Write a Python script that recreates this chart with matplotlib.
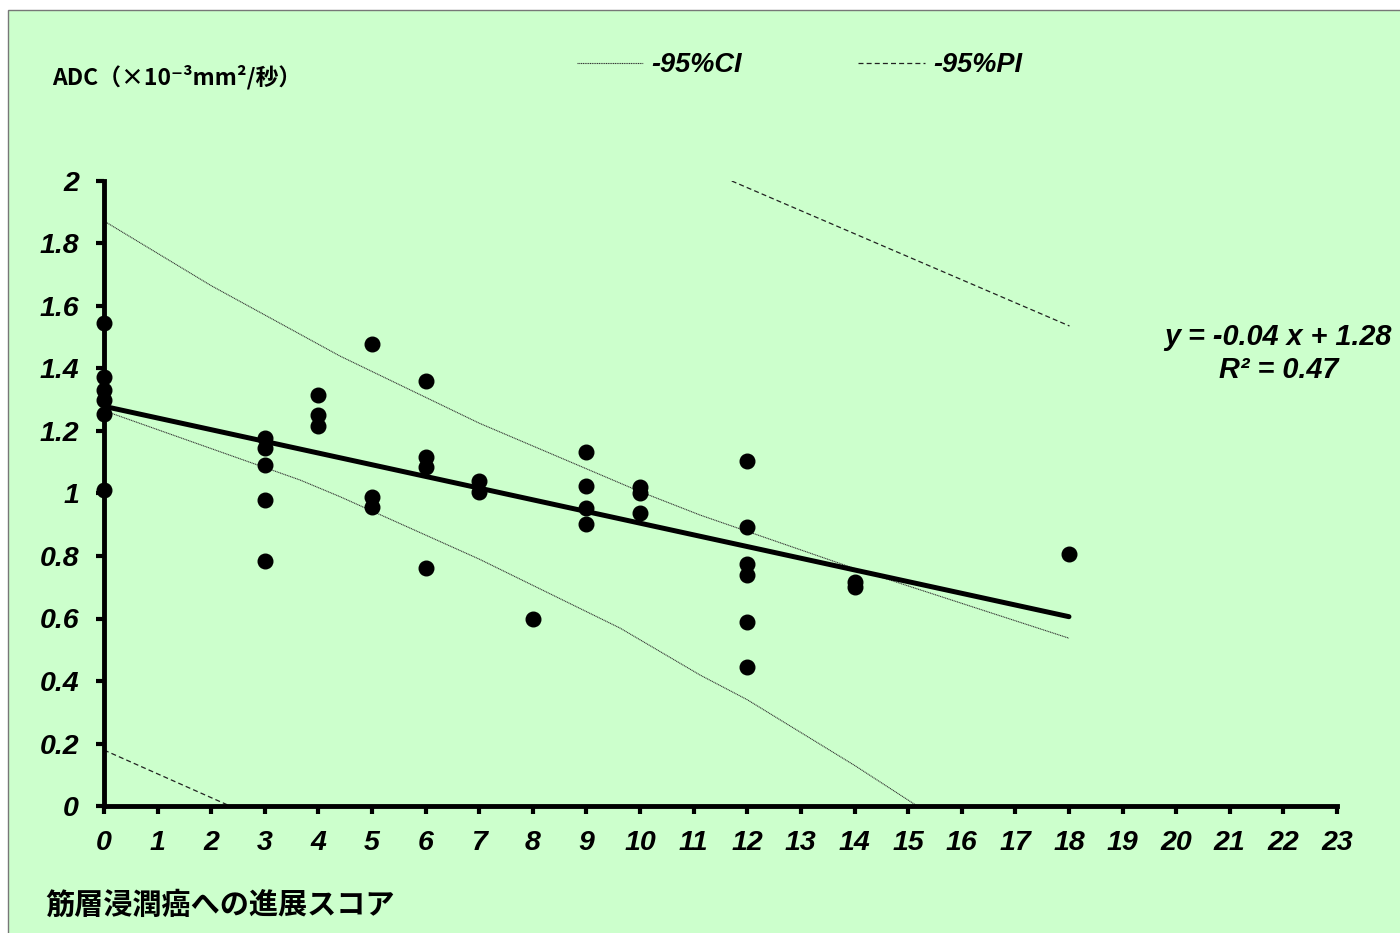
import matplotlib
matplotlib.use("Agg")
import matplotlib.pyplot as plt
from matplotlib.patches import Rectangle

# ---- data ----
score_x = [0, 0, 0, 0, 0, 0,
           3, 3, 3, 3, 3,
           4, 4, 4,
           5, 5, 5,
           6, 6, 6, 6,
           7, 7,
           8,
           9, 9, 9, 9,
           10, 10, 10,
           12, 12, 12, 12, 12, 12,
           14, 14,
           18]
adc_y = [1.545, 1.372, 1.331, 1.299, 1.254, 1.011,
         1.177, 1.145, 1.091, 0.979, 0.784,
         1.315, 1.251, 1.216,
         1.477, 0.990, 0.958,
         1.360, 1.118, 1.084, 0.761,
         1.041, 1.004,
         0.600,
         1.132, 1.025, 0.953, 0.901,
         1.021, 1.002, 0.938,
         1.105, 0.892, 0.774, 0.739, 0.590, 0.446,
         0.718, 0.702,
         0.805]

fit_slope = -0.0374
fit_intercept = 1.279
fit_x = [0, 18]

ci_upper_x = [0, 2, 4.4, 7, 10, 11.12, 14, 18]
ci_upper_y = [1.872, 1.665, 1.44, 1.225, 1.006, 0.931, 0.76, 0.537]
ci_lower_x = [0, 3.66, 4.4, 7, 9.63, 11.12, 12, 14, 15.17]
ci_lower_y = [1.265, 1.043, 0.99, 0.79, 0.569, 0.419, 0.34, 0.13, 0.0]

pi_upper_x = [11.71, 18.01]
pi_upper_y = [2.0, 1.536]
pi_lower_x = [0, 2.35]
pi_lower_y = [0.179, 0.0]

x_ticks = list(range(0, 24))
y_ticks = [0, 0.2, 0.4, 0.6, 0.8, 1, 1.2, 1.4, 1.6, 1.8, 2]
y_tick_labels = ["0", "0.2", "0.4", "0.6", "0.8", "1", "1.2", "1.4", "1.6", "1.8", "2"]

y_title = "ADC（×10⁻³mm²/秒）"
x_title = "筋層浸潤癌への進展スコア"
eq_line1 = "y = -0.04 x + 1.28"
eq_line2 = "R² = 0.47"

# ---- figure ----
W, H = 1400, 933
fig = plt.figure(figsize=(14, 9.33), dpi=100, facecolor="white")
bg = "#CCFFCC"
fig.add_artist(Rectangle((8 / W, -0.1), 1.2, 1 - 10 / H + 0.1,
                         transform=fig.transFigure, facecolor=bg,
                         edgecolor="#777777", linewidth=1.0, zorder=-10))

ax = fig.add_axes([104 / W, 1 - 806 / H, (1337 - 104) / W, (806 - 181) / H])
ax.set_facecolor("none")
ax.set_xlim(0, 23)
ax.set_ylim(0, 2)

tick_font = dict(family="Liberation Sans", weight="bold", style="italic", size=20.5)

# CI / PI curves
ax.plot(ci_upper_x, ci_upper_y, color="#333333", lw=0.8, ls=(0, (1, 0.6)), label="-95%CI")
ax.plot(ci_lower_x, ci_lower_y, color="#333333", lw=0.8, ls=(0, (1, 0.6)))
ax.plot(pi_upper_x, pi_upper_y, color="#222222", lw=0.9, ls=(0, (4, 2.5)), label="-95%PI")
ax.plot(pi_lower_x, pi_lower_y, color="#222222", lw=0.9, ls=(0, (4, 2.5)))

# regression line
fit_y = [fit_intercept + fit_slope * v for v in fit_x]
ax.plot(fit_x, fit_y, color="black", lw=3.6, solid_capstyle="round", zorder=3)

# data points
ax.plot(score_x, adc_y, ls="none", marker="o", ms=10.5, color="black",
        clip_on=False, zorder=4)

# spines and ticks
for s in ["top", "right"]:
    ax.spines[s].set_visible(False)
for s in ["left", "bottom"]:
    ax.spines[s].set_linewidth(3.5)
    ax.spines[s].set_color("black")
ax.set_xticks(x_ticks)
ax.set_xticklabels([str(v) for v in x_ticks], fontdict=tick_font)
ax.set_yticks(y_ticks)
ax.set_yticklabels(y_tick_labels, fontdict=tick_font)
ax.tick_params(axis="both", direction="out", length=6, width=3, color="black")
ax.tick_params(axis="y", pad=12)
ax.tick_params(axis="x", pad=11)

# legend
leg = ax.legend(loc="center left", bbox_to_anchor=(577 / W, 1 - 65 / H),
                bbox_transform=fig.transFigure, ncol=2, frameon=False,
                borderpad=0, borderaxespad=0, handlelength=2.45,
                handletextpad=0.3, columnspacing=4.3,
                prop=dict(family="Liberation Sans", weight="bold", style="italic", size=19.5))

# equation
eq_font = dict(family="Liberation Sans", weight="bold", style="italic", size=20.8)
fig.text(1278 / W, 1 - 337 / H, eq_line1, ha="center", va="center", **eq_font)
fig.text(1279 / W, 1 - 370 / H, eq_line2, ha="center", va="center", **eq_font)

# axis titles
fig.text(52 / W, 1 - 77 / H, y_title, ha="left", va="center",
         family=["Noto Sans CJK JP", "DejaVu Sans"], size=16.5, weight="bold")
fig.text(45 / W, 1 - 905 / H, x_title, ha="left", va="center",
         family=["Noto Sans CJK JP", "DejaVu Sans"], size=21, weight="bold")

fig.savefig("out.png", dpi=100, facecolor="white")
